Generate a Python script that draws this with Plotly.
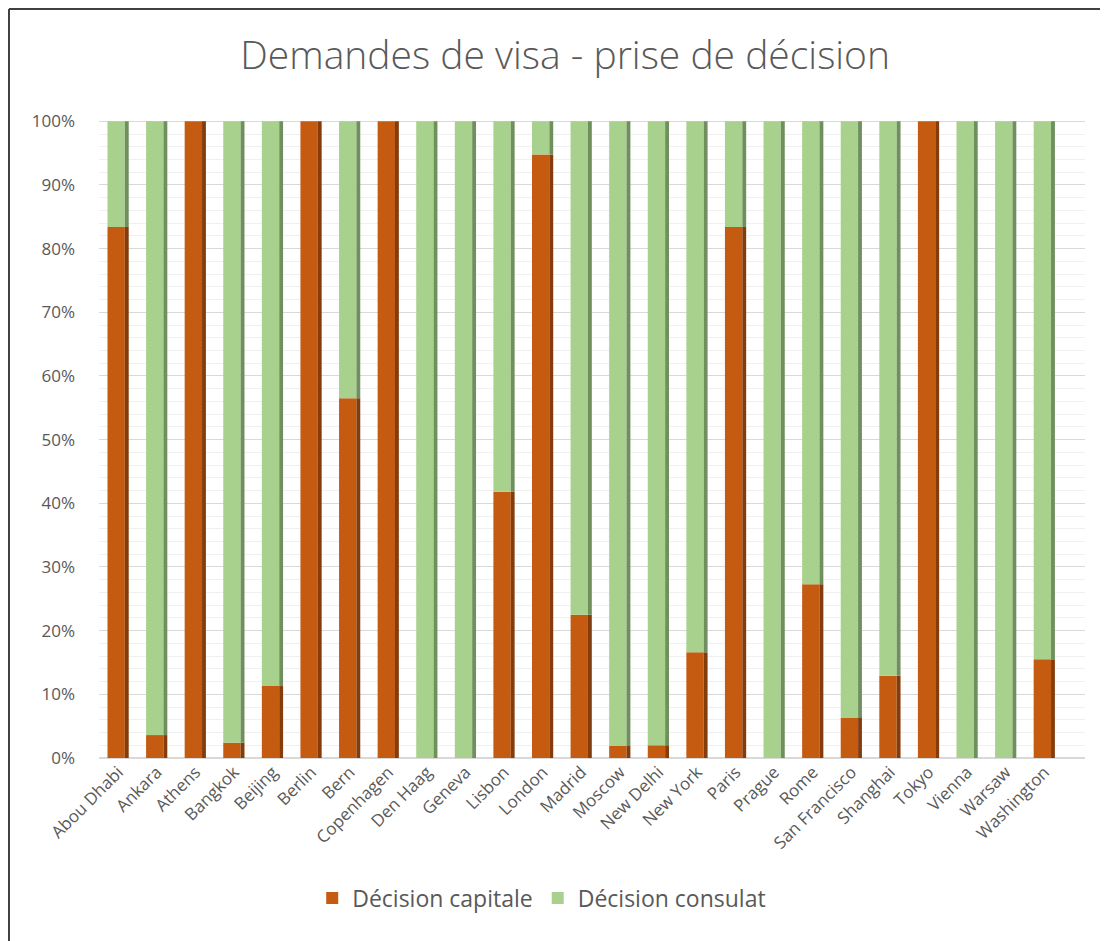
import plotly.graph_objects as go

# Share of visa decisions taken in the capital vs. at the consulate
villes = [
    "Abou Dhabi", "Ankara", "Athens", "Bangkok", "Beijing", "Berlin", "Bern",
    "Copenhagen", "Den Haag", "Geneva", "Lisbon", "London", "Madrid", "Moscow",
    "New Delhi", "New York", "Paris", "Prague", "Rome", "San Francisco",
    "Shanghai", "Tokyo", "Vienna", "Warsaw", "Washington",
]
decision_capitale = [
    83.4, 3.6, 100, 2.4, 11.3, 100, 56.5,
    100, 0, 0, 41.8, 94.8, 22.5, 1.9,
    2.0, 16.6, 83.4, 0, 27.3, 6.3,
    12.9, 100, 0, 0, 15.5,
]
decision_consulat = [round(100 - v, 1) for v in decision_capitale]

ORANGE = "#C55A11"
ORANGE_SIDE = "#843C0C"
GREEN = "#A9D18E"
GREEN_SIDE = "#6F8F5C"
TXT = "#595959"

cap = [v / 100 for v in decision_capitale]
cons = [v / 100 for v in decision_consulat]

fig = go.Figure()

# front faces
fig.add_trace(go.Bar(x=villes, y=cap, base=[0] * len(cap), name="Décision capitale",
                     marker=dict(color=ORANGE, line=dict(width=0)),
                     width=0.45, offset=-0.28))
fig.add_trace(go.Bar(x=villes, y=cons, base=cap, name="Décision consulat",
                     marker=dict(color=GREEN, line=dict(width=0)),
                     width=0.45, offset=-0.28))
# darker side faces (fake 3D look)
fig.add_trace(go.Bar(x=villes, y=cap, base=[0] * len(cap), showlegend=False,
                     marker=dict(color=ORANGE_SIDE, line=dict(width=0)),
                     width=0.1, offset=0.17, hoverinfo="skip"))
fig.add_trace(go.Bar(x=villes, y=cons, base=cap, showlegend=False,
                     marker=dict(color=GREEN_SIDE, line=dict(width=0)),
                     width=0.1, offset=0.17, hoverinfo="skip"))

# outer frame (top + left edges visible in the reference)
for x0, y0, x1, y1 in [(-0.0913, 1.174, 1.1, 1.174), (-0.0913, 1.174, -0.0913, -0.3)]:
    fig.add_shape(type="line", xref="paper", yref="paper",
                  x0=x0, y0=y0, x1=x1, y1=y1,
                  line=dict(color="#404040", width=2), layer="above")

# page has an 8px body margin, so the figure is a bit smaller and shifted
fig.update_layout(
    width=1100,
    height=933,
    barmode="overlay",
    paper_bgcolor="white",
    plot_bgcolor="white",
    margin=dict(l=91, r=23, t=112, b=183),
    font=dict(family="Open Sans, sans-serif", color=TXT),
    title=dict(text="Demandes de visa - prise de décision", x=0.5065, xanchor="center",
               y=0.9496, yanchor="middle",
               font=dict(size=39, color=TXT, family="Open Sans, sans-serif", weight=300)),
    legend=dict(orientation="h", x=0.449, xanchor="center", y=-0.2194, yanchor="middle",
                font=dict(size=23, color=TXT), traceorder="normal",
                itemwidth=30),
    showlegend=True,
)
fig.update_xaxes(
    range=[-0.5, 25.05],
    tickangle=-45,
    tickfont=dict(size=17, color=TXT),
    showgrid=False,
    showline=False,
    ticks="",
)
fig.update_yaxes(
    range=[0, 1.002],
    dtick=0.1,
    tickformat=".0%",
    tickfont=dict(size=17, color=TXT),
    ticklabelstandoff=23,
    showgrid=True,
    gridcolor="#D9D9D9",
    gridwidth=1,
    minor=dict(dtick=0.02, showgrid=True, gridcolor="#F0F0F0", gridwidth=1),
    zeroline=True,
    zerolinecolor="#D9D9D9",
    showline=False,
)

fig.write_html("out.html")
